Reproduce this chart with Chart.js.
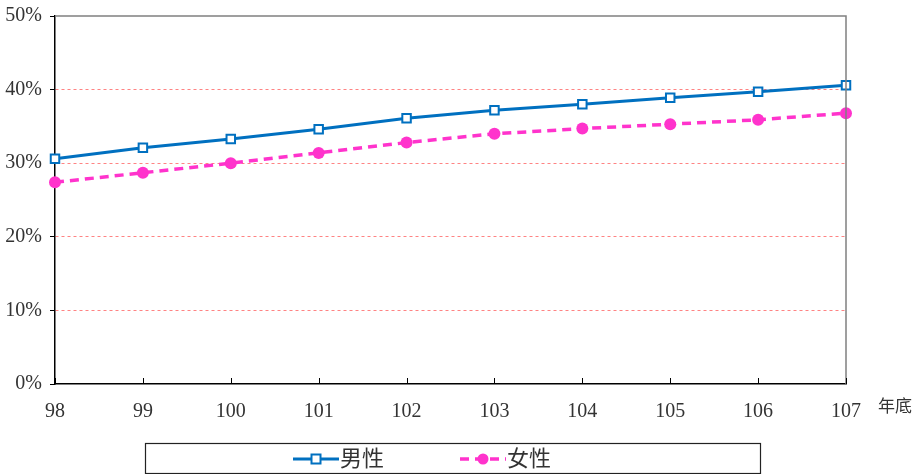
<!DOCTYPE html>
<html>
<head>
<meta charset="utf-8">
<script src="https://cdn.jsdelivr.net/npm/chart.js@4/dist/chart.umd.min.js"></script>
<style>
  html, body { margin: 0; padding: 0; background: #fff; }
  #wrap { width: 912px; height: 474px; }
</style>
</head>
<body>
<div id="wrap"><canvas id="genderChart" width="912" height="474"></canvas></div>
<script>
// 年底 (ROC years)
const YEARS = ['98', '99', '100', '101', '102', '103', '104', '105', '106', '107'];
const MALE = [30.6, 32.1, 33.3, 34.6, 36.1, 37.2, 38.0, 38.9, 39.7, 40.6];
const FEMALE = [27.4, 28.7, 30.0, 31.4, 32.8, 34.0, 34.7, 35.3, 35.9, 36.8];
const Y_TICKS = [0, 10, 20, 30, 40, 50];
const SERIES_NAMES = ['男性', '女性'];
const X_UNIT = '年底';

const NUM_FONT = "'Liberation Serif', 'DejaVu Serif', serif";
const CJK_FONT = "'Noto Sans CJK TC', 'Noto Sans CJK SC', sans-serif";

// frame, inside ticks on x axis, unit label and the boxed legend
const decorations = {
    id: 'decorations',
    afterDatasetsDraw(chart) {
        const { ctx, chartArea: a, scales: { x } } = chart;
        ctx.save();
        // top and right border
        ctx.strokeStyle = '#808080';
        ctx.lineWidth = 1.5;
        ctx.beginPath();
        ctx.moveTo(a.left, a.top);
        ctx.lineTo(a.right, a.top);
        ctx.lineTo(a.right, a.bottom);
        ctx.stroke();
        // x ticks pointing up into the plot
        ctx.strokeStyle = '#000';
        ctx.lineWidth = 1;
        x.ticks.forEach((t, i) => {
            const px = Math.round(x.getPixelForTick(i)) + 0.5;
            ctx.beginPath();
            ctx.moveTo(px, a.bottom);
            ctx.lineTo(px, a.bottom - 6);
            ctx.stroke();
        });
        // unit label
        ctx.fillStyle = '#333';
        ctx.font = '17px ' + CJK_FONT;
        ctx.textAlign = 'left';
        ctx.textBaseline = 'middle';
        ctx.fillText(X_UNIT, a.right + 32, a.bottom + 22);

        // legend box
        const bx = 145, by = 443, bw = 615, bh = 30;
        ctx.strokeStyle = '#222';
        ctx.lineWidth = 1.2;
        ctx.strokeRect(bx + 0.5, by + 0.5, bw, bh);
        const cy = by + bh / 2 + 1;
        const starts = [bx + 148, bx + 315];
        chart.data.datasets.forEach((ds, i) => {
            const sx = starts[i];
            ctx.strokeStyle = ds.borderColor;
            ctx.lineWidth = ds.borderWidth;
            ctx.setLineDash(ds.borderDash || []);
            ctx.beginPath();
            ctx.moveTo(sx, cy);
            ctx.lineTo(sx + 46, cy);
            ctx.stroke();
            ctx.setLineDash([]);
            const mx = sx + 23;
            if (ds.pointStyle === 'rect') {
                ctx.fillStyle = ds.pointBackgroundColor;
                ctx.lineWidth = 2;
                ctx.strokeStyle = ds.pointBorderColor;
                ctx.fillRect(mx - 4.5, cy - 4.5, 9, 9);
                ctx.strokeRect(mx - 4.5, cy - 4.5, 9, 9);
            } else {
                ctx.fillStyle = ds.pointBackgroundColor;
                ctx.beginPath();
                ctx.arc(mx, cy, 5.5, 0, Math.PI * 2);
                ctx.fill();
            }
            ctx.fillStyle = '#333';
            ctx.font = '22px ' + CJK_FONT;
            ctx.textAlign = 'left';
            ctx.textBaseline = 'middle';
            ctx.fillText(ds.label, sx + 47, cy - 1);
        });
        ctx.restore();
    }
};

new Chart(document.getElementById('genderChart'), {
    type: 'line',
    data: {
        labels: YEARS,
        datasets: [
            {
                label: SERIES_NAMES[0],
                data: MALE,
                borderColor: '#0070C0',
                borderWidth: 3,
                pointStyle: 'rect',
                pointRadius: 6,
                pointBorderWidth: 2,
                pointBorderColor: '#0070C0',
                pointBackgroundColor: '#ffffff',
                tension: 0,
                fill: false
            },
            {
                label: SERIES_NAMES[1],
                data: FEMALE,
                borderColor: '#FF33CC',
                borderWidth: 3.5,
                borderDash: [9, 6],
                pointStyle: 'circle',
                pointRadius: 6,
                pointBorderWidth: 0,
                pointBorderColor: '#FF33CC',
                pointBackgroundColor: '#FF33CC',
                tension: 0,
                fill: false
            }
        ]
    },
    options: {
        responsive: false,
        animation: false,
        layout: { padding: { top: 16, right: 66, left: 0, bottom: 0 } },
        plugins: {
            legend: { display: false },
            tooltip: { enabled: false }
        },
        scales: {
            x: {
                type: 'category',
                offset: false,
                afterFit: s => { s.height = 90; },
                grid: { display: false },
                border: { display: true, color: '#000', width: 1.5 },
                ticks: {
                    color: '#333',
                    padding: 8,
                    maxRotation: 0,
                    font: { family: NUM_FONT, size: 20 }
                }
            },
            y: {
                min: 0,
                max: 50,
                afterFit: s => { s.width = 55; s.paddingTop = 0; s.paddingBottom = 0; },
                afterBuildTicks: s => { s.ticks = Y_TICKS.map(v => ({ value: v })); },
                grid: {
                    color: c => (c.tick.value === 0 || c.tick.value === 50) ? 'rgba(0,0,0,0)' : 'rgba(255,90,90,0.75)',
                    lineWidth: 1,
                    tickColor: '#000',
                    tickLength: 5,
                    drawTicks: true
                },
                border: { display: true, color: '#000', width: 1.5, dash: [3, 3] },
                ticks: {
                    color: '#333',
                    padding: 8,
                    font: { family: NUM_FONT, size: 20 },
                    callback: v => v + '%'
                }
            }
        }
    },
    plugins: [decorations]
});
</script>
</body>
</html>
